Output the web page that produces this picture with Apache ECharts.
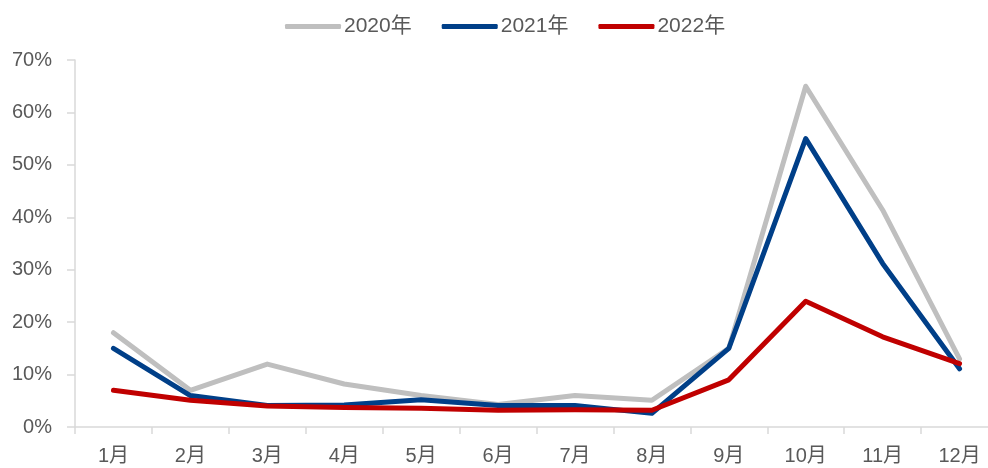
<!DOCTYPE html>
<html><head><meta charset="utf-8">
<script src="https://cdn.jsdelivr.net/npm/echarts@6/dist/echarts.min.js"></script>
<style>html,body{margin:0;padding:0;background:#fff}#c{width:988px;height:468px}</style>
</head><body><div id="c"></div>
<script>
const categories = ['1月','2月','3月','4月','5月','6月','7月','8月','9月','10月','11月','12月'];
const seriesNames = ['2020年','2021年','2022年'];
const data2020 = [18, 7, 12, 8.2, 6, 4.3, 6, 5.1, 15, 65, 41.4, 13];
const data2021 = [15, 6, 4.1, 4.2, 5.2, 4.1, 4.1, 2.6, 15, 55, 31.2, 11.1];
const data2022 = [7, 5.1, 4, 3.7, 3.6, 3.2, 3.3, 3.2, 9, 24, 17.2, 12.1];
const colors = ['#BFBFBF', '#003F88', '#C00000'];
const yTicks = [0, 10, 20, 30, 40, 50, 60, 70];

const font = '"Liberation Sans", "Noto Sans CJK SC", sans-serif';
const chart = echarts.init(document.getElementById('c'), null, {renderer: 'canvas'});
const allData = [data2020, data2021, data2022];
chart.setOption({
  animation: false,
  backgroundColor: '#fff',
  legend: {
    left: 280, top: 11, icon: 'roundRect', itemWidth: 56, itemHeight: 5, itemGap: 30,
    textStyle: {fontFamily: font, fontSize: 21, color: '#595959', padding: [0,0,0,-2]},
    data: seriesNames
  },
  grid: {left: 75, top: 60, right: -10, height: 367, containLabel: false, outerBoundsMode: 'none'},
  xAxis: {
    type: 'category', data: categories, boundaryGap: true,
    axisLine: {lineStyle: {color: '#D9D9D9', width: 1.5}},
    axisTick: {show: true, length: 7, lineStyle: {color: '#D9D9D9', width: 1.5}},
    axisLabel: {fontFamily: font, fontSize: 20, color: '#595959', margin: 19}
  },
  yAxis: {
    type: 'value', min: yTicks[0], max: yTicks[yTicks.length-1], interval: 10,
    axisLine: {show: true, lineStyle: {color: '#D9D9D9', width: 1.5}},
    axisTick: {show: true, length: 8, lineStyle: {color: '#D9D9D9', width: 1.5}},
    splitLine: {show: false},
    axisLabel: {fontFamily: font, fontSize: 20, color: '#595959', margin: 23, formatter: v => v + '%'}
  },
  series: seriesNames.map((n, i) => ({
    name: n, type: 'line', data: allData[i], symbol: 'none', smooth: false,
    lineStyle: {width: 5, color: colors[i], cap: 'round', join: 'round'},
    itemStyle: {color: colors[i]}, z: 2 + i
  }))
});
</script></body></html>
